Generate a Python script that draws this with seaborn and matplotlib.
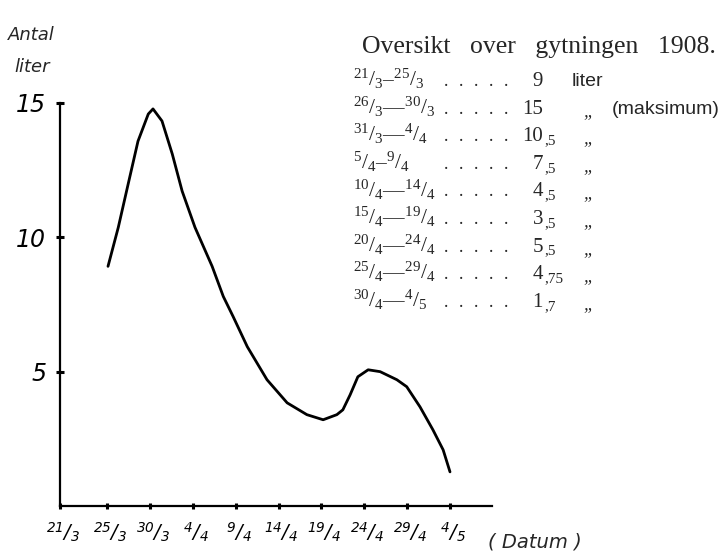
import numpy as np
import pandas as pd
import matplotlib
matplotlib.use("Agg")
import matplotlib.pyplot as plt
import matplotlib.transforms as mtransforms
import seaborn as sns

# ---- data ----
# hand-drawn curve: position in date-tick units (25/3 = 1, 30/3 = 2, ...), litres
curve_pos = [1.02, 1.26, 1.49, 1.72, 1.96, 2.07, 2.28, 2.52, 2.75, 3.05, 3.45,
             3.71, 3.94, 4.27, 4.73, 5.20, 5.66, 6.04, 6.36, 6.50, 6.67, 6.85,
             7.09, 7.37, 7.76, 7.99, 8.30, 8.60, 8.84, 9.00]
curve_liters = [8.92, 10.37, 11.98, 13.58, 14.59, 14.78, 14.33, 13.10, 11.72,
                10.37, 8.92, 7.80, 7.05, 5.93, 4.70, 3.84, 3.40, 3.21, 3.40,
                3.58, 4.14, 4.81, 5.07, 5.00, 4.70, 4.44, 3.69, 2.84, 2.09, 1.27]

date_ticks = ["21/3", "25/3", "30/3", "4/4", "9/4", "14/4", "19/4", "24/4",
              "29/4", "4/5"]
y_ticks = [5, 10, 15]

# table "Oversikt over gytningen 1908."
period_from = ["21/3", "26/3", "31/3", "5/4", "10/4", "15/4", "20/4", "25/4", "30/4"]
period_to = ["25/3", "30/3", "4/4", "9/4", "14/4", "19/4", "24/4", "29/4", "4/5"]
period_sep = ["–", "—", "—", "–", "—", "—", "—", "—", "—"]
liters = [9, 15, 10.5, 7.5, 4.5, 3.5, 5.5, 4.75, 1.7]

# ---- style ----
sns.set_theme(style="white")
plt.rcParams['font.family'] = ['Liberation Serif', 'DejaVu Serif']
plt.rcParams['mathtext.fontset'] = 'custom'
plt.rcParams['mathtext.rm'] = 'Liberation Serif'
plt.rcParams['mathtext.it'] = 'Liberation Serif:italic'
plt.rcParams['mathtext.bf'] = 'Liberation Serif:bold'
plt.rcParams['mathtext.sf'] = 'DejaVu Sans:italic'

W, H = 724, 556
fig = plt.figure(figsize=(W / 100, H / 100), dpi=100)
fig.patch.set_facecolor("white")


def P(x, y):
    return x / W, 1 - y / H


ax = fig.add_axes([60 / W, 50 / H, 432 / W, 403 / H])
ax.set_facecolor("white")
df = pd.DataFrame({"pos": curve_pos, "liter": curve_liters})
sns.lineplot(data=df, x="pos", y="liter", sort=False, color="black",
             lw=2.0, ax=ax, solid_joinstyle="round", solid_capstyle="round")
ax.set_xlim(-0.1, 9.98)
ax.set_ylim(0, 15)
for s in ["top", "right"]:
    ax.spines[s].set_visible(False)
for s in ["left", "bottom"]:
    ax.spines[s].set_color("black")
    ax.spines[s].set_linewidth(1.6)


def hand_frac(t):
    a, b = t.split("/")
    return r"$^{\mathsf{%s}}\mathsf{/}_{\mathsf{%s}}$" % (a, b)


tick_pos = [-0.1] + list(range(1, len(date_ticks)))
ax.set_xticks(tick_pos)
ax.set_xticklabels([hand_frac(t) for t in date_ticks], fontsize=14)
ax.set_yticks(y_ticks)
ax.set_yticklabels([str(v) for v in y_ticks], fontsize=17,
                   family="DejaVu Sans", style="italic")
ax.tick_params(axis="both", direction="inout", length=4, width=2.2,
               color="black", labelcolor="black", bottom=True, left=True)
ax.tick_params(axis="y", length=6, pad=7)
ax.tick_params(axis="x", pad=9)
offset = mtransforms.ScaledTranslation(3 / 100, 0, fig.dpi_scale_trans)
for lab in ax.get_xticklabels():
    lab.set_transform(lab.get_transform() + offset)
ax.set_xlabel("")
ax.set_ylabel("")

# handwritten axis titles
fig.text(*P(8, 40), "Antal", family="DejaVu Sans", style="italic",
         fontsize=13, ha="left", va="baseline")
fig.text(*P(14, 72), "liter", family="DejaVu Sans", style="italic",
         fontsize=13, ha="left", va="baseline")
fig.text(*P(488, 548), "( Datum )", family="DejaVu Sans", style="italic",
         fontsize=14, ha="left", va="baseline")

# table
fig.text(*P(362, 53), "Oversikt   over   gytningen   1908.", fontsize=18.5,
         ha="left", va="baseline")


def frac(t):
    a, b = t.split("/")
    return r"$^{%s}/_{%s}$" % (a, b)


for i in range(len(liters)):
    yb = 86 + 27.6 * i
    fig.text(*P(353, yb), frac(period_from[i]) + period_sep[i] + frac(period_to[i]),
             fontsize=15.5, ha="left", va="baseline")
    for k in range(5):
        fig.text(*P(446 + 15 * k, yb), ".", fontsize=13, ha="center",
                 va="baseline")
    v = liters[i]
    ip = int(v)
    fig.text(*P(543, yb), str(ip), fontsize=15, ha="right", va="baseline")
    if v != ip:
        dec = ("%g" % v).split(".")[1]
        fig.text(*P(544, yb + 3), "," + dec, fontsize=11, ha="left",
                 va="baseline")
    if i == 0:
        fig.text(*P(572, yb), "liter", fontsize=14, family="Liberation Sans",
                 ha="left", va="baseline")
    else:
        fig.text(*P(583, yb + 2), "„", fontsize=13, style="italic",
                 ha="left", va="baseline")
    if i == 1:
        fig.text(*P(612, yb), "(maksimum)", fontsize=14,
                 family="Liberation Sans", ha="left", va="baseline")

fig.savefig("out.png", dpi=100, facecolor="white")
